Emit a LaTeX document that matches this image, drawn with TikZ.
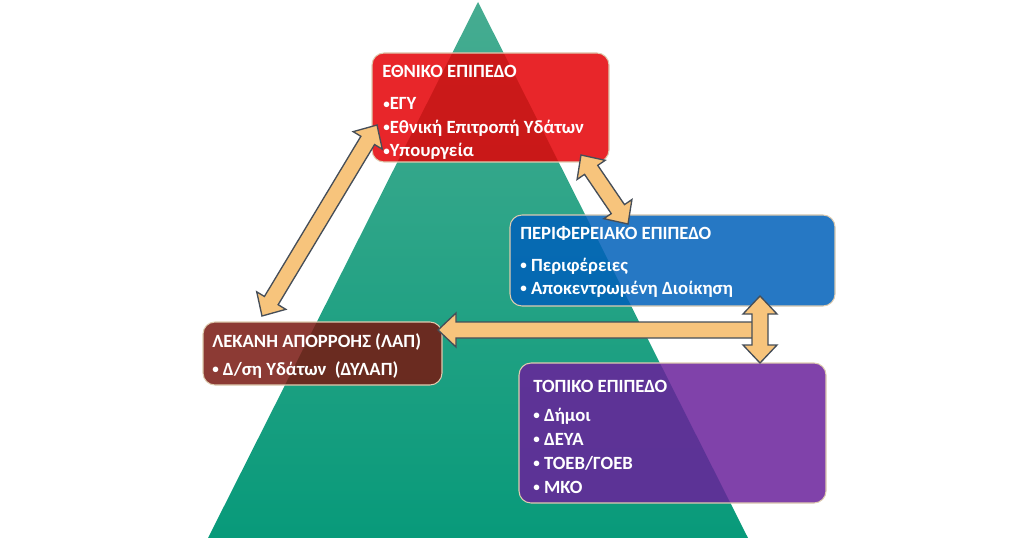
\documentclass[tikz,border=0pt]{standalone}
\usepackage{fontspec}
\setmainfont{Carlito}
\usetikzlibrary{calc, positioning, shadings}
\definecolor{natred}{RGB}{228,0,5}
\definecolor{regblue}{RGB}{0,96,186}
\definecolor{lapbrown}{RGB}{120,23,16}
\definecolor{locpurple}{RGB}{106,33,155}
\definecolor{pyrtop}{RGB}{70,172,145}
\definecolor{pyrbot}{RGB}{8,154,122}
\definecolor{arrfill}{RGB}{247,196,124}
\definecolor{arrline}{RGB}{70,78,88}
\definecolor{boxline}{RGB}{222,204,176}

% block arrow sizes
\newcommand{\arrL}{13.5pt}
\newcommand{\arrW}{12.75pt}
\newcommand{\arrw}{6pt}
% small bullet
\newcommand{\bul}{\raisebox{0.1em}{\scalebox{0.7}{•}}}
% double headed block arrow between two tips
\newcommand{\dblarrow}[2]{%
  \coordinate (ha) at ($(#1)!\arrL!(#2)$);
  \coordinate (hb) at ($(#2)!\arrL!(#1)$);
  \draw[blockarrow] (#1) -- ($(ha)!\arrW!90:(#2)$) -- ($(ha)!\arrw!90:(#2)$)
    -- ($(hb)!\arrw!-90:(#1)$) -- ($(hb)!\arrW!-90:(#1)$) -- (#2)
    -- ($(hb)!\arrW!90:(#1)$) -- ($(hb)!\arrw!90:(#1)$)
    -- ($(ha)!\arrw!-90:(#2)$) -- ($(ha)!\arrW!-90:(#2)$) -- cycle;}
% single headed block arrow, tip at #1
\newcommand{\onearrow}[2]{%
  \coordinate (ha) at ($(#1)!\arrL!(#2)$);
  \draw[blockarrow] (#1) -- ($(ha)!\arrW!90:(#2)$) -- ($(ha)!\arrw!90:(#2)$)
    -- ($(#2)!\arrw!-90:(#1)$) -- ($(#2)!\arrw!90:(#1)$)
    -- ($(ha)!\arrw!-90:(#2)$) -- ($(ha)!\arrW!-90:(#2)$) -- cycle;}

\tikzset{
  levelbox/.style={draw=boxline, line width=0.8pt, rounded corners=9pt,
    fill opacity=0.85, anchor=north west, inner sep=0pt, outer sep=0pt},
  lbl/.style={text=white, anchor=base west, inner sep=0pt,
    font=\fontsize{14}{16}\selectfont\bfseries},
  blockarrow/.style={fill=arrfill, draw=arrline, line width=1pt, line join=miter}
}

\begin{document}
\begin{tikzpicture}[x=0.75pt, y=-0.75pt]
	\useasboundingbox (0,0) rectangle (1023,538);
	% Pyramid
	\shade[top color=pyrtop, bottom color=pyrbot] (478,2) -- (748,538) -- (208,538) -- cycle;
	% Levels
	\node[levelbox, fill=natred, minimum width=177.75pt, minimum height=81.75pt] (nat) at (372,53) {};
	\node[levelbox, fill=regblue, minimum width=243.75pt, minimum height=68.25pt] (reg) at (510,215) {};
	\node[levelbox, fill=lapbrown, minimum width=179.25pt, minimum height=47.25pt] (lap) at (203,322) {};
	\node[levelbox, fill=locpurple, minimum width=230.25pt, minimum height=105pt] (loc) at (519,363) {};
	% National
	\node[lbl] (nat-t) at (382,78) {ΕΘΝΙΚΟ ΕΠΙΠΕΔΟ};
	\node[lbl] (nat-a) at (383,110) {\bul ΕΓΥ};
	\node[lbl] (nat-b) at (383,133.5) {\bul Εθνική Επιτροπή Υδάτων};
	\node[lbl] (nat-c) at (383,157) {\bul Υπουργεία};
	% Regional
	\node[lbl] (reg-t) at (520,239) {ΠΕΡΙΦΕΡΕΙΑΚΟ ΕΠΙΠΕΔΟ};
	\node[lbl] (reg-a) at (520,271) {\bul\ Περιφέρειες};
	\node[lbl] (reg-b) at (520,294) {\bul\ Αποκεντρωμένη Διοίκηση};
	% River basin
	\node[lbl] (lap-t) at (212,347) {ΛΕΚΑΝΗ ΑΠΟΡΡΟΗΣ (ΛΑΠ)};
	\node[lbl] (lap-a) at (212,375) {\bul\ Δ/ση Υδάτων\ \ (ΔΥΛΑΠ)};
	% Local
	\node[lbl] (loc-t) at (533,392) {ΤΟΠΙΚΟ ΕΠΙΠΕΔΟ};
	\node[lbl] (loc-a) at (533,421) {\bul\ Δήμοι};
	\node[lbl] (loc-b) at (533,445) {\bul\ ΔΕΥΑ};
	\node[lbl] (loc-c) at (533,469) {\bul\ ΤΟΕΒ/ΓΟΕΒ};
	\node[lbl] (loc-d) at (533,493) {\bul\ ΜΚΟ};
	% Arrow tips
	\coordinate (nat-sw) at (377,125);
	\coordinate (lap-n) at (262,316);
	\coordinate (nat-se) at (581,155);
	\coordinate (reg-n) at (628,224);
	\coordinate (reg-s) at (760,296);
	\coordinate (loc-n) at (760,363);
	\coordinate (lap-e) at (438,330);
	\coordinate (mid-e) at (760,330);
	% Links
	\dblarrow{nat-sw}{lap-n}
	\dblarrow{nat-se}{reg-n}
	\onearrow{lap-e}{mid-e}
	\dblarrow{reg-s}{loc-n}
\end{tikzpicture}
\end{document}
